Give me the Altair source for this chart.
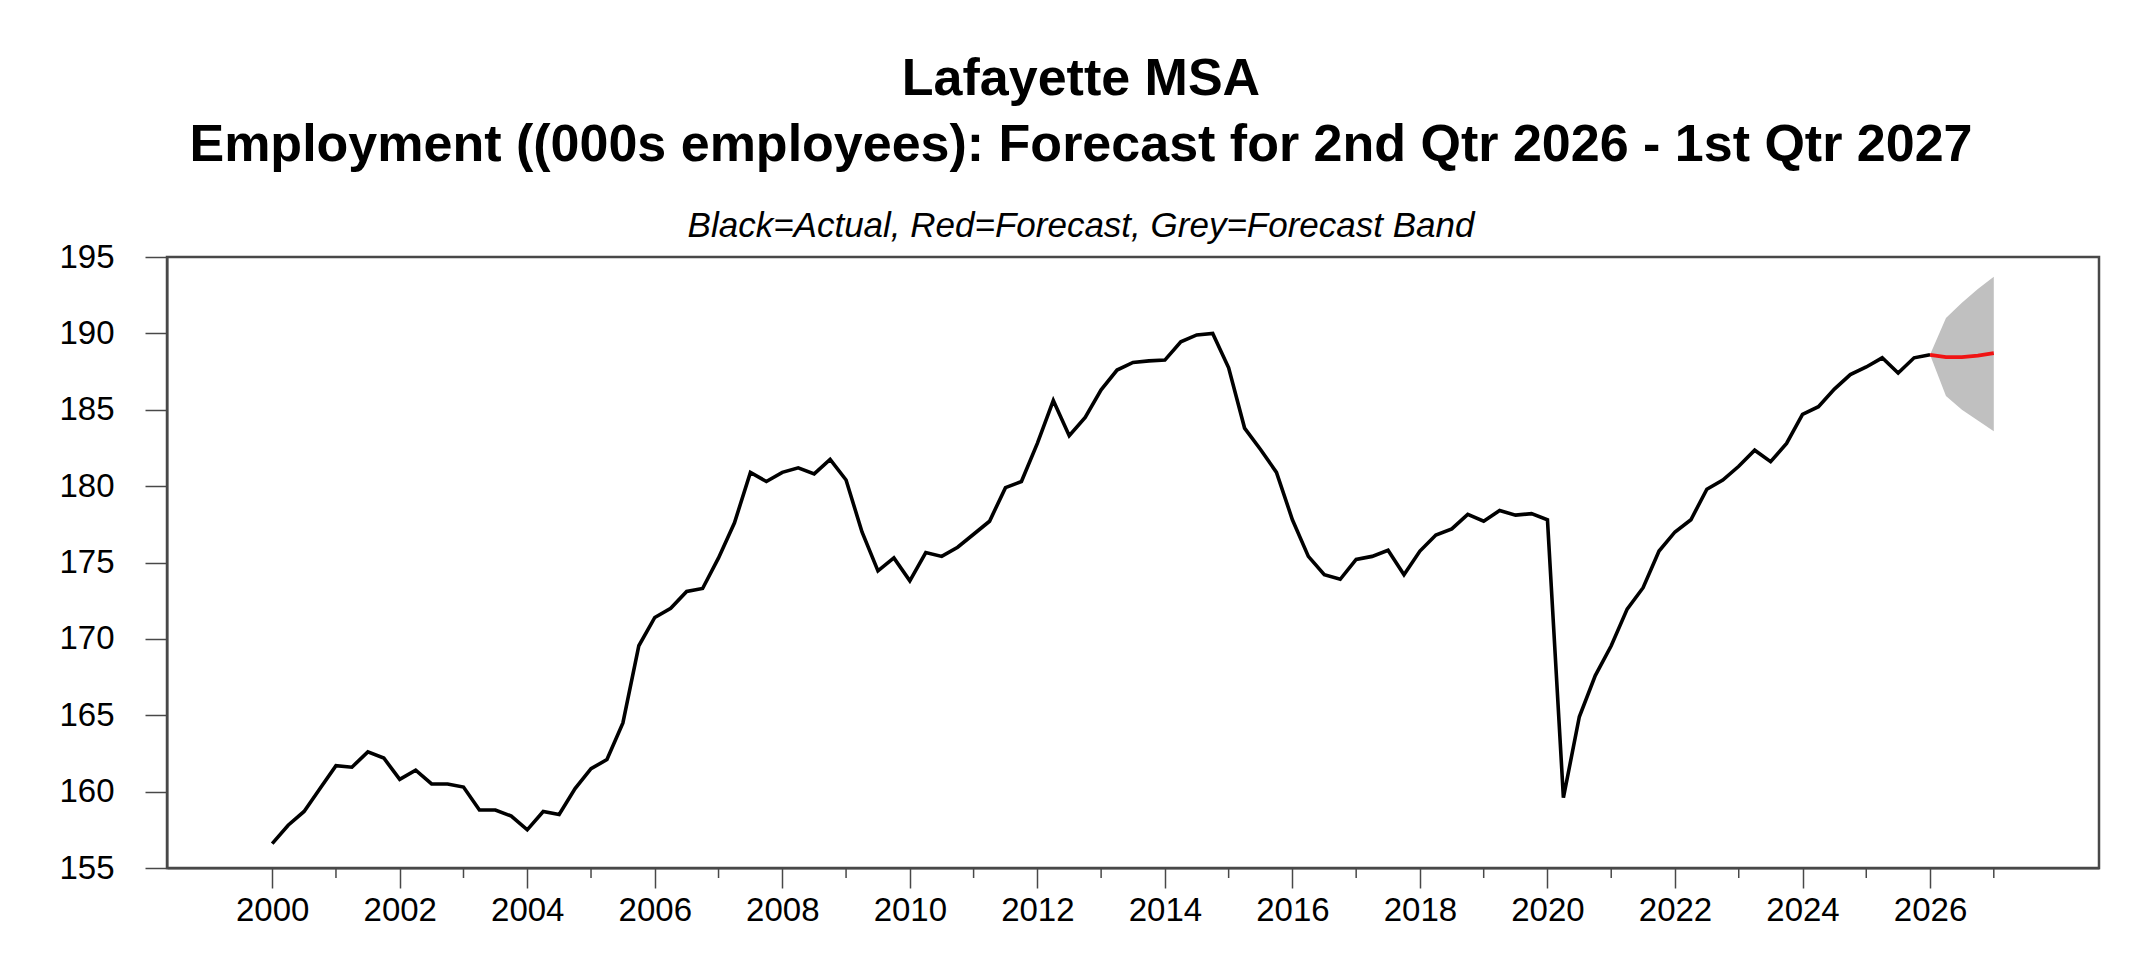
import altair as alt
import pandas as pd

FONT = "Liberation Sans"

# Quarterly employment (000s), 2000 Q1 .. 2026 Q1
first_year = 2000
actual_values = [
    156.6, 157.8, 158.7, 160.2,   # 2000
    161.7, 161.6, 162.6, 162.2,   # 2001
    160.8, 161.4, 160.5, 160.5,   # 2002
    160.3, 158.8, 158.8, 158.4,   # 2003
    157.5, 158.7, 158.5, 160.2,   # 2004
    161.5, 162.1, 164.5, 169.55,  # 2005
    171.4, 172.0, 173.1, 173.3,   # 2006
    175.3, 177.6, 180.9, 180.3,   # 2007
    180.9, 181.2, 180.8, 181.75,  # 2008
    180.4, 177.0, 174.45, 175.3,  # 2009
    173.8, 175.65, 175.4, 176.0,  # 2010
    176.85, 177.7, 179.9, 180.3,  # 2011
    182.8, 185.6, 183.3, 184.5,   # 2012
    186.3, 187.6, 188.1, 188.2,   # 2013
    188.25, 189.45, 189.9, 190.0, # 2014
    187.75, 183.8, 182.4, 180.9,  # 2015
    177.8, 175.4, 174.2, 173.9,   # 2016
    175.2, 175.4, 175.8, 174.2,   # 2017
    175.75, 176.8, 177.2, 178.15, # 2018
    177.7, 178.4, 178.1, 178.2,   # 2019
    177.8, 159.6, 164.9, 167.6,   # 2020
    169.55, 171.95, 173.35, 175.75, # 2021
    177.0, 177.8, 179.8, 180.4,   # 2022
    181.3, 182.35, 181.6, 182.8,  # 2023
    184.7, 185.2, 186.35, 187.3,  # 2024
    187.8, 188.4, 187.4, 188.4,   # 2025
    188.6,                        # 2026 Q1
]

forecast_time = [2026.0, 2026.25, 2026.5, 2026.75, 2027.0]
forecast_values = [188.6, 188.45, 188.45, 188.55, 188.7]
band_low = [188.6, 185.9, 185.0, 184.3, 183.6]
band_high = [188.6, 191.0, 192.0, 192.9, 193.7]

major_years = list(range(2000, 2027, 2))
minor_years = list(range(2001, 2028, 2))
y_ticks = [155, 160, 165, 170, 175, 180, 185, 190, 195]

actual_df = pd.DataFrame({
    "t": [first_year + i / 4 for i in range(len(actual_values))],
    "v": actual_values,
})
fc_df = pd.DataFrame({"t": forecast_time, "v": forecast_values,
                      "lo": band_low, "hi": band_high})
minor_df = pd.DataFrame({"t": minor_years})

W, H = 1932, 611
AX = "#484848"

x_scale = alt.Scale(domain=[1998.35, 2028.65], nice=False, zero=False)
y_scale = alt.Scale(domain=[155, 195], nice=False, zero=False)

x_axis = alt.Axis(values=major_years, format="d", tickSize=20, tickColor=AX,
                  tickWidth=1.5, domainColor=AX, domainWidth=2, labelFont=FONT,
                  labelFontSize=33, labelColor="black", labelPadding=6,
                  grid=False, title=None, labelFlush=False)
y_axis = alt.Axis(values=y_ticks, tickSize=22, tickColor=AX, tickWidth=1.5,
                  domainColor=AX, domainWidth=2, labelFont=FONT,
                  labelFontSize=33, labelColor="black", labelPadding=31,
                  grid=False, title=None)

band = alt.Chart(fc_df).mark_area(color="#C0C0C0", opacity=1).encode(
    x=alt.X("t:Q", scale=x_scale, axis=x_axis),
    y=alt.Y("lo:Q", scale=y_scale, axis=y_axis),
    y2="hi:Q",
)
actual = alt.Chart(actual_df).mark_line(color="black", strokeWidth=3.6).encode(
    x="t:Q", y="v:Q"
)
forecast = alt.Chart(fc_df).mark_line(color="#F01414", strokeWidth=3.8).encode(
    x="t:Q", y="v:Q"
)
minor = alt.Chart(minor_df).mark_rule(color=AX, strokeWidth=1.5).encode(
    x="t:Q", y=alt.value(H), y2=alt.value(H + 10)
)

chart = alt.layer(band, actual, forecast, minor).properties(
    width=W, height=H,
    background="white",
    autosize=alt.AutoSizeParams(type="none"),
    padding={"left": 159, "top": 249, "right": 40, "bottom": 100},
    title=alt.TitleParams(
        text=["Lafayette MSA",
              "Employment ((000s employees): Forecast for 2nd Qtr 2026 - 1st Qtr 2027"],
        subtitle="Black=Actual, Red=Forecast, Grey=Forecast Band",
        font=FONT, fontSize=52, fontWeight="bold", color="black", lineHeight=66,
        subtitleFont=FONT, subtitleFontSize=35, subtitleFontStyle="italic",
        subtitleColor="black", subtitlePadding=37,
        anchor="middle", frame="group", dx=-52, offset=-4,
    ),
).configure_view(stroke=AX, strokeWidth=2.5)

chart.save("out.html", embed_options={"renderer": "svg", "actions": False})
